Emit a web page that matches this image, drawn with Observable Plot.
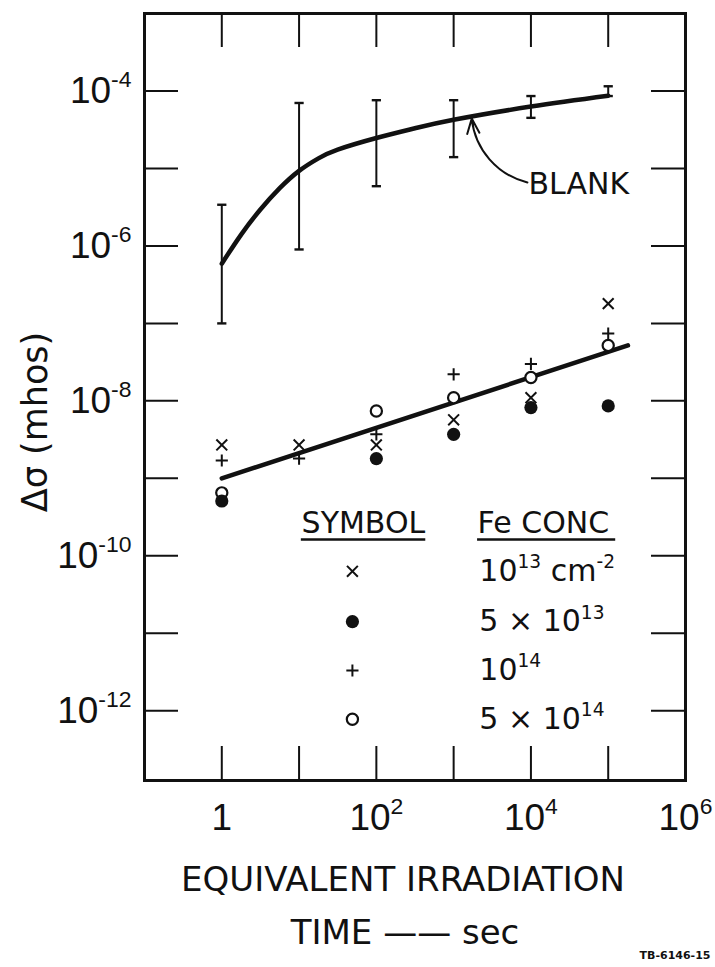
<!DOCTYPE html>
<html><head><meta charset="utf-8">
<script src="https://cdn.jsdelivr.net/npm/d3@7"></script>
<script src="https://cdn.jsdelivr.net/npm/@observablehq/plot@0.6"></script>
<style>html,body{margin:0;padding:0;background:#fff;} #chart svg{display:block;}</style>
</head><body><div id="chart"></div>
<script>
// ---------- data ----------
const times = [1, 10, 100, 1000, 1e4, 1e5];                       // equivalent irradiation time, sec
const blankLow  = [1e-7, 9e-7, 5.9e-6, 1.4e-5, 4.5e-5, 8.6e-5];    // blank error bar, lower end
const blankHigh = [3.4e-6, 7e-5, 7.6e-5, 7.6e-5, 8.6e-5, 1.15e-4]; // blank error bar, upper end
const blankCurveX = [1, 1.78, 3.16, 5.62, 10, 17.8, 31.6, 100, 316, 1000, 1e4, 1e5];
const blankCurveY = [5.9e-7, 1.40e-6, 2.95e-6, 5.56e-6, 9.3e-6, 1.35e-5, 1.75e-5, 2.47e-5, 3.30e-5, 4.25e-5, 6.3e-5, 8.7e-5];
const fitX = [1, 1.8e5];
const fitY = [1.0e-9, 5.2e-8];
const fe1e13 = [2.7e-9, 2.7e-9, 2.7e-9, 5.7e-9, 1.1e-8, 1.8e-7];   // ×
const fe5e13 = [5.1e-10, null, 1.8e-9, 3.7e-9, 8.2e-9, 8.6e-9];   // ●
const fe1e14 = [1.7e-9, 1.8e-9, 3.7e-9, 2.2e-8, 3.0e-8, 7.4e-8];   // +
const fe5e14 = [6.5e-10, null, 7.4e-9, 1.1e-8, 2.0e-8, 5.2e-8];    // ○
const seriesLabels = ["10^13 cm^-2", "5 × 10^13", "10^14", "5 × 10^14"];
const xTicks = [1, 10, 100, 1000, 1e4, 1e5];
const xTickLabels = [1, 100, 1e4, 1e6];
const yTicks = [1e-12, 1e-11, 1e-10, 1e-9, 1e-8, 1e-7, 1e-6, 1e-5, 1e-4];
const yTickLabels = [1e-12, 1e-10, 1e-8, 1e-6, 1e-4];

// ---------- layout (annotation / legend placement in data space) ----------
const blankLabelPos = {x: 9300, y: 6.3e-6};
const blankArrow = {x1: 9000, y1: 6.6e-6, x2: 1715, y2: 4.4e-5};
const legend = {
  symX: 49, headSymX: 68, textX: 2150, headY: 10 ** -9.58,
  rowY: [10 ** -10.20, 10 ** -10.85, 10 ** -11.48, 10 ** -12.11],
  ulY: 10 ** -9.79, symUl: [10.7, 436], feUl: [2040, 1.25e5]
};

const INK = "#111";
const FW = 715 - 144 - 30, FH = 967 - 13 - 187, TICK = 34;
const capSymbol = {draw(ctx, size) { const w = Math.sqrt(size); ctx.moveTo(-w, 0); ctx.lineTo(w, 0); }};

const blank = times.map((t, i) => ({t, lo: blankLow[i], hi: blankHigh[i]}));
const curve = blankCurveX.map((t, i) => ({t, v: blankCurveY[i]}));
const fit = fitX.map((t, i) => ({t, v: fitY[i]}));
const specs = [
  {values: fe5e14, symbol: "circle", r: 5.6, fill: "#fff", stroke: INK, sw: 2.2},
  {values: fe1e14, symbol: "plus", r: 4.0, fill: "none", stroke: INK, sw: 2},
  {values: fe1e13, symbol: "times", r: 5.0, fill: "none", stroke: INK, sw: 2},
  {values: fe5e13, symbol: "circle", r: 6.6, fill: INK, stroke: "none", sw: 0}
];
const legendOrder = [2, 3, 1, 0]; // ×, ●, +, ○ rows

const pts = s => times.map((t, i) => ({t, v: s.values[i]})).filter(d => d.v != null);
const centered = {textAnchor: "middle", lineAnchor: "middle", fill: INK};

const marks = [
  Plot.frame({stroke: INK, strokeWidth: 3}),
  // inward ticks on all four sides
  Plot.tickX(xTicks, {x: d => d, insetTop: FH - TICK, stroke: INK, strokeWidth: 2}),
  Plot.tickX(xTicks, {x: d => d, insetBottom: FH - TICK, stroke: INK, strokeWidth: 2}),
  Plot.tickY(yTicks, {y: d => d, insetRight: FW - TICK, stroke: INK, strokeWidth: 2}),
  Plot.tickY(yTicks, {y: d => d, insetLeft: FW - TICK, stroke: INK, strokeWidth: 2}),
  // tick labels
  Plot.axisX({ticks: xTickLabels, tickSize: 0, tickPadding: 23, label: null, fontSize: 37,
    fontFamily: "Liberation Sans", fill: INK,
    tickFormat: d => d === 1 ? "1" : "10^" + Math.round(Math.log10(d))}),
  Plot.axisY({ticks: yTickLabels, tickSize: 0, tickPadding: 13, label: null, fontSize: 37,
    fontFamily: "Liberation Sans", fill: INK,
    tickFormat: d => "10^" + Math.round(Math.log10(d))}),
  // blank: error bars, caps, curve
  Plot.ruleX(blank, {x: "t", y1: "lo", y2: "hi", stroke: INK, strokeWidth: 2}),
  Plot.dot(blank, {x: "t", y: "lo", symbol: capSymbol, r: 2.6, stroke: INK, fill: "none", strokeWidth: 2.4}),
  Plot.dot(blank, {x: "t", y: "hi", symbol: capSymbol, r: 2.6, stroke: INK, fill: "none", strokeWidth: 2.4}),
  Plot.line(curve, {x: "t", y: "v", curve: "natural", stroke: INK, strokeWidth: 4.5}),
  Plot.arrow([0], {x1: blankArrow.x1, y1: blankArrow.y1, x2: blankArrow.x2, y2: blankArrow.y2,
    bend: 35, headLength: 12, headAngle: 45, stroke: INK, strokeWidth: 2}),
  Plot.text(["BLANK"], {text: d => d, x: blankLabelPos.x, y: blankLabelPos.y, textAnchor: "start",
    fontSize: 30, fill: INK}),
  // fit line through Fe-doped points
  Plot.line(fit, {x: "t", y: "v", stroke: INK, strokeWidth: 4.5}),
  ...specs.map(s => Plot.dot(pts(s), {x: "t", y: "v", symbol: s.symbol, r: s.r, fill: s.fill,
    stroke: s.stroke, strokeWidth: s.sw})),
  // legend
  Plot.text(["SYMBOL"], {text: d => d, x: legend.headSymX, y: legend.headY, fontSize: 30, fill: INK}),
  Plot.text(["Fe CONC"], {text: d => d, x: legend.feUl[0], y: legend.headY, textAnchor: "start", fontSize: 30, fill: INK}),
  Plot.ruleY([legend.ulY], {x1: legend.symUl[0], x2: legend.symUl[1], stroke: INK, strokeWidth: 2.5}),
  Plot.ruleY([legend.ulY], {x1: legend.feUl[0], x2: legend.feUl[1], stroke: INK, strokeWidth: 2.5}),
  ...legendOrder.map((si, row) => {
    const s = specs[si];
    return Plot.dot([0], {x: legend.symX, y: legend.rowY[row], symbol: s.symbol, r: s.r, fill: s.fill,
      stroke: s.stroke, strokeWidth: s.sw});
  }),
  Plot.text(seriesLabels, {text: d => d, x: legend.textX, y: (d, i) => legend.rowY[i], textAnchor: "start",
    fontSize: 30, fill: INK}),
  // axis titles & id
  Plot.text(["EQUIVALENT IRRADIATION"], {text: d => d, frameAnchor: "bottom", dx: -12, dy: 100, fontSize: 34, ...centered}),
  Plot.text(["TIME —— sec"], {text: d => d, frameAnchor: "bottom", dx: -10, dy: 153, fontSize: 34, ...centered}),
  Plot.text(["Δσ (mhos)"], {text: d => d, frameAnchor: "left", dx: -109, dy: 25, rotate: -90, fontSize: 35, ...centered}),
  Plot.text(["TB-6146-15"], {text: d => d, frameAnchor: "bottom-right", dx: 25, dy: 175, fontSize: 11,
    fontWeight: "bold", ...centered, textAnchor: "end"})
];

const plot = Plot.plot({
  width: 715, height: 967,
  marginLeft: 144, marginRight: 30, marginTop: 13, marginBottom: 187,
  x: {type: "log", domain: [0.1, 1e6]},
  y: {type: "log", domain: [10 ** -12.9, 1e-3]},
  style: {fontFamily: "DejaVu Sans", color: INK, background: "#fff", overflow: "visible"},
  marks
});
document.getElementById("chart").appendChild(plot);

// turn "^n" into real superscript tspans
function supify(root) {
  const NS = "http://www.w3.org/2000/svg";
  root.querySelectorAll("text").forEach(el => {
    const t = el.textContent;
    if (!t.includes("^")) return;
    const fs = parseFloat(getComputedStyle(el).fontSize) || 30;
    const up = fs * 0.42;
    el.textContent = "";
    const re = /\^(-?\d+)/g;
    let last = 0, m, raised = false;
    const add = (txt, dy, size) => {
      const s = document.createElementNS(NS, "tspan");
      s.textContent = txt;
      if (dy) s.setAttribute("dy", dy);
      if (size) s.setAttribute("font-size", size);
      el.appendChild(s);
    };
    while ((m = re.exec(t))) {
      if (m.index > last) { add(t.slice(last, m.index), raised ? up : 0); raised = false; }
      add(m[1], raised ? 0 : -up, fs * 0.62); raised = true;
      last = m.index + m[0].length;
    }
    if (last < t.length) add(t.slice(last), raised ? up : 0);
  });
}
supify(plot);
</script></body></html>
